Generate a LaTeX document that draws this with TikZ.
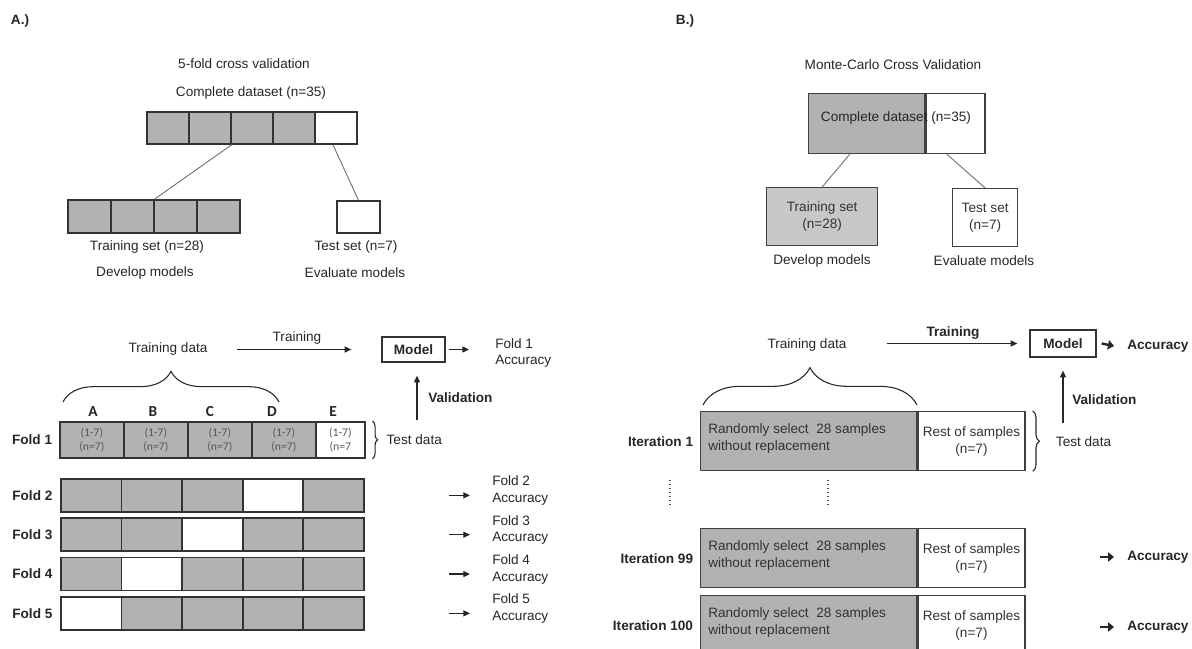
\documentclass[tikz,border=0pt]{standalone}
\usepackage{fontspec}
\setmainfont{Liberation Sans}
\newfontfamily\calib{Carlito}
\usepackage{tikz}
\usetikzlibrary{arrows.meta,positioning,decorations.pathreplacing}
\definecolor{cellgray}{RGB}{178,178,178}
\definecolor{lightcell}{RGB}{200,200,200}
\definecolor{inktext}{RGB}{38,38,38}
\definecolor{celltext}{RGB}{89,89,89}

\begin{document}
\begin{tikzpicture}[x=0.75pt,y=-0.75pt,
		txt/.style={font=\fontsize{10.2}{12.5}\selectfont,text=inktext,inner sep=0pt,align=center},
		bold/.style={txt,font=\fontsize{10.2}{12.5}\selectfont\bfseries},
		letter/.style={txt,font=\calib\fontsize{11.5}{13}\selectfont\bfseries},
		cnum/.style={font=\calib\fontsize{8.8}{10.5}\selectfont,text=celltext,align=center,inner sep=0pt},
		cell/.style 2 args={draw=black!80,line width=1.3pt,fill=cellgray,anchor=north west,inner sep=0pt,minimum width=#1*0.75pt,minimum height=#2*0.75pt},
		box/.style 2 args={cell={#1}{#2},txt,line width=1pt,draw=black!75,text=black!80},
		modelbox/.style 2 args={bold,draw=black!80,line width=1pt,minimum width=#1*0.75pt,minimum height=#2*0.75pt},
		link/.style={draw=black!55,line width=0.7pt},
		arr/.style={draw=inktext,line width=0.9pt,-{Triangle[length=5pt,width=4.5pt]}},
		fatarr/.style={draw=inktext,line width=1.8pt,-{Triangle[length=4.5pt,width=7pt]}},
		brc/.style={draw=inktext,line width=0.8pt,decorate,decoration={brace,amplitude=#1}},
		dots/.style={draw=black!70,line width=1pt,dotted}
	]
	\useasboundingbox (0,0) rectangle (1192,649);

	\node[bold] (lblA) at (20,21) {A.)};
	\node[txt] (ttlA) at (244,64) {5-fold cross validation};
	\node[txt] (cdA) at (251,93) {Complete dataset (n=35)};
	\foreach \i/\f in {1/cellgray,2/cellgray,3/cellgray,4/cellgray,5/white}
		\node[cell={42}{32},fill=\f] (top\i) at ({146+42*(\i-1)},111) {};
	\foreach \i in {1,...,4}
		\node[cell={43}{33}] (trn\i) at ({67+43*(\i-1)},199) {};
	\node[cell={43}{32},fill=white] (tst) at (336,200) {};
	\draw[link] (top2.south east) -- (trn2.north east);
	\draw[link] ([xshift=-2.2pt]top5.south) -- (tst.north);
	\node[txt] (trsA) at (147,247) {Training set (n=28)};
	\node[txt] (dvA) at (145,273) {Develop models};
	\node[txt] (tssA) at (356,247) {Test set (n=7)};
	\node[txt] (evA) at (355,273) {Evaluate models};

	\node[txt] (tdA) at (168,349) {Training data};
	\node[txt] (trA) at (297,338) {Training};
	\node[modelbox={63}{25}] (modA) at (413.5,349.5) {Model};
	\node[txt,align=left,anchor=west] (acc1) at (495,353) {Fold 1\\Accuracy};
	\draw[arr] ([xshift=22pt]tdA.east |- modA.west) -- ([xshift=-22.5pt]modA.west);
	\draw[arr] ([xshift=2.2pt]modA.east) -- ([xshift=-19.5pt]acc1.west |- modA.east);
	\draw[brc=23pt] (63,402) -- (279,402);
	\foreach \l/\x in {A/93,B/153,C/210,D/272,E/333}
		\node[letter] (let\l) at (\x,412) {\l};
	\foreach \i/\x/\w/\f in {1/59/64/cellgray,2/123/64/cellgray,3/187/64/cellgray,4/251/64/cellgray,5/315/49/white}
		\node[cell={\w}{36},fill=\f] (fa\i) at (\x,421) {};
	\foreach \i in {1,...,4}
		\node[cnum] (fn\i) at (fa\i) {(1-7)\\(n=7)};
	\node[cnum] (fn5) at (fa5) {(1-7)\\(n=7};
	\node[bold,left=5pt of fa1] (fl1) {Fold 1};
	\draw[brc=4pt] ([xshift=5pt]fa5.north east) -- ([xshift=5pt]fa5.south east);
	\node[txt,right=15.5pt of fa5] (tdatA) {Test data};
	\coordinate (vbA) at (417,420);
	\draw[arr,shorten >=9.75pt] (vbA) -- (vbA |- modA.south);
	\node[bold,anchor=west] (valA) at (428,398) {Validation};

	\foreach \row in {2,...,5} {
		\pgfmathtruncatemacro{\wh}{6-\row}
		\foreach \i in {1,...,5} {
			\ifnum\i=\wh \def\cf{white}\else\def\cf{cellgray}\fi
			\node[cell={60.6}{33},fill=\cf] (f\row x\i) at ({60+60.6*(\i-1)},{478+39.33*(\row-2)}) {};
		}
		\node[bold,left=5.5pt of f\row x1] (fl\row) {Fold \row};
		\node[txt,align=left,anchor=west] (acc\row) at (492,{490.5+39.33*(\row-2)}) {Fold \row\\Accuracy};
		\draw[arr] ([xshift=63.5pt]f\row x5.east) -- ([xshift=-16.5pt]acc\row.west |- f\row x5.east);
	}

	\node[bold] (lblB) at (685,21) {B.)};
	\node[txt] (ttlB) at (893,65) {Monte-Carlo Cross Validation};
	\node[box={116}{60},fill=cellgray] (cdg) at (808,93) {};
	\node[box={59}{60},fill=white] (cdw) at (cdg.north east) {};
	\node[txt] (cdB) at (896,118) {Complete dataset (n=35)};
	\node[box={111}{58},fill=lightcell] (trB) at (766,187) {Training set\\(n=28)};
	\node[box={65}{58},fill=white] (tsB) at (952,188) {Test set\\(n=7)};
	\draw[link] ([xshift=-12.75pt]cdg.south) -- (trB.north);
	\draw[link] ([xshift=-6.4pt]cdw.south) -- (tsB.north);
	\node[txt] (dvB) at (822,261) {Develop models};
	\node[txt] (evB) at (984,261) {Evaluate models};

	\node[txt] (tdB) at (807,345) {Training data};
	\node[bold] (trnB) at (953,333) {Training};
	\node[modelbox={66}{27}] (modB) at (1063,343.5) {Model};
	\node[bold,anchor=west] (accB) at (1127,346) {Accuracy};
	\draw[arr] ([xshift=30pt]tdB.east |- modB.west) -- ([xshift=-9pt]modB.west);
	\draw[fatarr] ([xshift=3.75pt]modB.east) -- ([xshift=-9.75pt]accB.west);
	\draw[brc=28pt] (703,405) -- (917,405);
	\foreach \n/\y in {1/411,99/528,100/595} {
		\node[box={216}{59},fill=cellgray] (itg\n) at (700,\y) {};
		\node[box={107}{59},fill=white] (itw\n) at (itg\n.north east) {Rest of samples\\(n=7)};
		\node[txt,text=black!80,anchor=west,align=left] (rnd\n) at ([xshift=6pt,yshift=2pt]itg\n.west) {Randomly select\ \ 28 samples\\without replacement};
		\node[bold,left=5pt of itg\n] (itl\n) {Iteration \n};
	}
	\draw[brc=5pt] ([xshift=5.25pt]itw1.north east) -- ([xshift=5.25pt]itw1.south east);
	\node[txt,right=22.5pt of itw1] (tdatB) {Test data};
	\coordinate (vbB) at (1063,423);
	\draw[arr,shorten >=9.75pt] (vbB) -- (vbB |- modB.south);
	\node[bold,anchor=west] (valB) at (1072,400) {Validation};
	\foreach \x/\k in {670/1,828/2} {
		\coordinate (dt\k) at (\x,480);
		\coordinate (db\k) at (\x,507);
		\draw[dots] (dt\k) -- (db\k);
	}
	\foreach \n/\y in {99/557,100/627} {
		\node[bold,anchor=west] (acc\n) at (1127,\y) {Accuracy};
		\coordinate (as\n) at (1100,\y);
		\draw[fatarr,shorten >=9.75pt] (as\n) -- (acc\n.west);
	}
\end{tikzpicture}
\end{document}
